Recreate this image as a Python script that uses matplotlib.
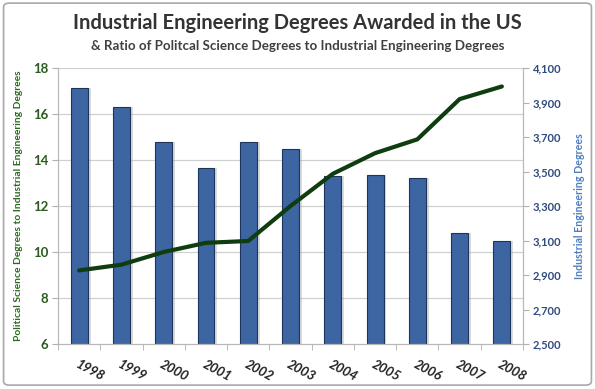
import matplotlib
matplotlib.use("Agg")
import matplotlib.pyplot as plt
from matplotlib.patches import FancyBboxPatch
import numpy as np

plt.rcParams['font.family'] = ['Lato', 'DejaVu Sans']

years = ['1998', '1999', '2000', '2001', '2002', '2003', '2004', '2005', '2006', '2007', '2008']
ie_degrees = [3985, 3875, 3670, 3520, 3670, 3630, 3475, 3480, 3460, 3145, 3100]
ratio = [9.2, 9.45, 10.0, 10.4, 10.48, 12.0, 13.4, 14.3, 14.9, 16.65, 17.2]

left_ticks = [6, 8, 10, 12, 14, 16, 18]
right_ticks = [2500, 2700, 2900, 3100, 3300, 3500, 3700, 3900, 4100]

title = "Industrial Engineering Degrees Awarded in the US"
subtitle = "& Ratio of Politcal Science Degrees to Industrial Engineering Degrees"
left_label = "Political Science Degrees to Industrial Engineering Degrees"
right_label = "Industrial Engineering Degrees"

fig = plt.figure(figsize=(5.95, 3.89), dpi=100)
fig.patch.set_facecolor('white')

# border
border = FancyBboxPatch((0.006, 0.01), 0.988, 0.982, boxstyle="round,pad=0,rounding_size=0.01",
                        transform=fig.transFigure, facecolor='none', edgecolor='#a8a8a8', lw=1.2)
fig.patches.append(border)

ax_bar = fig.add_axes([0.0975, 0.1157, 0.7815, 0.7093])
ax_line = ax_bar.twinx()

x = np.arange(len(years))

# gridlines behind bars (at left axis ticks)
for v in left_ticks[1:]:
    f = (v - left_ticks[0]) / (left_ticks[-1] - left_ticks[0])
    ax_bar.plot([0, 1], [f, f], transform=ax_bar.transAxes, color='#d0d0d0', lw=0.9, zorder=0)

# shadow + bars
ax_bar.bar(x + 0.06, ie_degrees, width=0.42, color='#9a9a9a', alpha=0.35, zorder=1)
ax_bar.bar(x, ie_degrees, width=0.40, color='#3c65a2', edgecolor='#1d355c', lw=0.8, zorder=2)
ax_bar.set_ylim(2500, 4100)
ax_bar.set_xlim(-0.5, len(years) - 0.5)
ax_bar.yaxis.tick_right()
ax_bar.yaxis.set_label_position('right')
ax_bar.set_yticks(right_ticks)
ax_bar.set_yticklabels([f"{v:,}" for v in right_ticks], color='#2f4a80', fontsize=8, fontweight='bold')
ax_bar.set_ylabel(right_label, color='#4f7fbf', fontsize=7.7, fontweight='bold', labelpad=9)

ax_line.plot(x, ratio, color='#0f3d0f', lw=3, solid_capstyle='round', zorder=5)
ax_line.set_ylim(6, 18)
ax_line.yaxis.tick_left()
ax_line.yaxis.set_label_position('left')
ax_line.set_yticks(left_ticks)
ax_line.set_yticklabels([str(v) for v in left_ticks], color='#2c5a20', fontsize=9.5, fontweight='bold')
ax_line.set_ylabel(left_label, color='#2c6a20', fontsize=7.4, fontweight='bold', labelpad=7)

# x-axis
ax_bar.set_xticks(x)
ax_bar.set_xticklabels(years, rotation=-28, ha='left', rotation_mode='anchor',
                       fontsize=9.5, fontweight='bold', fontstyle='italic', color='#222222')
ax_bar.tick_params(axis='x', length=0, pad=10)
ax_bar.set_xticks(np.arange(-0.5, len(years), 1), minor=True)
ax_bar.tick_params(axis='x', which='minor', length=4, color='#b0b0b0')
ax_bar.tick_params(axis='y', length=4, color='#b0b0b0', pad=3)
ax_line.tick_params(axis='y', length=4, color='#b0b0b0', pad=3)

for a in (ax_bar, ax_line):
    for s in a.spines.values():
        s.set_color('#b8b8b8')
    a.spines['top'].set_visible(False)

fig.text(0.5, 0.942, title, ha='center', va='center', fontsize=14.5, fontweight='bold', color='#333333')
fig.text(0.5, 0.882, subtitle, ha='center', va='center', fontsize=9.6, fontweight='bold', color='#404040')

fig.savefig('out.png', dpi=100)
